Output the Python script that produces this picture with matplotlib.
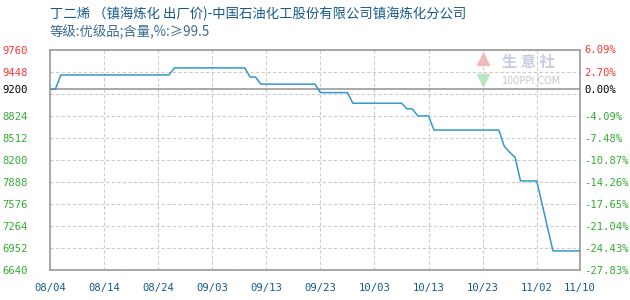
import matplotlib
matplotlib.use("Agg")
import matplotlib.pyplot as plt
import pandas as pd

plt.rcParams['font.family'] = ['Noto Sans CJK SC', 'DejaVu Sans']

# price series (date, price)
dates = ["08/04", "08/05", "08/06", "08/26", "08/27", "09/09", "09/10", "09/11",
         "09/12", "09/22", "09/23", "09/28", "09/29", "10/08", "10/09", "10/10",
         "10/11", "10/13", "10/14", "10/26", "10/27", "10/28", "10/29", "10/30",
         "11/02", "11/05", "11/10"]
prices = [9200, 9200, 9400, 9400, 9500, 9500, 9370, 9370,
          9270, 9270, 9150, 9150, 9000, 9000, 8920, 8920,
          8820, 8820, 8620, 8620, 8390, 8305, 8235, 7900,
          7900, 6910, 6910]

x_ticks = ["08/04", "08/14", "08/24", "09/03", "09/13", "09/23", "10/03",
           "10/13", "10/23", "11/02", "11/10"]
y_ticks = [9760, 9448, 9200, 8824, 8512, 8200, 7888, 7576, 7264, 6952, 6640]
grid_vals = [9760 - 312 * k for k in range(11)]
base_price = 9200

title = "丁二烯 （镇海炼化 出厂价)-中国石油化工股份有限公司镇海炼化分公司"
subtitle = "等级:优级品;含量,%:≥99.5"

start = pd.Timestamp("2023-08-04")
def day(s):
    return (pd.Timestamp("2023/" + s) - start).days

xs = [day(d) for d in dates]
xt = [day(d) for d in x_ticks]

red, green, blue_txt = "#ff3333", "#33aa33", "#165a8a"

fig = plt.figure(figsize=(6.3, 3.0), dpi=100)
ax = fig.add_axes([50 / 630, 30 / 300, 530 / 630, 220.5 / 300])

for g in grid_vals:
    ax.axhline(g, color="#cccccc", lw=0.8, ls=(0, (3, 2)), zorder=1)
for t in xt[1:-1]:
    ax.axvline(t, color="#cccccc", lw=0.8, ls=(0, (3, 2)), zorder=1)
ax.axhline(base_price, color="#999999", lw=1.2, zorder=2)

ax.plot(xs, prices, color="#3399cc", lw=1.1, zorder=3)

ax.set_xlim(xt[0], xt[-1])
ax.set_ylim(y_ticks[-1], y_ticks[0])
for s in ax.spines.values():
    s.set_color("#999999")
    s.set_linewidth(1.2)

mono = "DejaVu Sans Mono"
ax.set_xticks(xt)
ax.set_xticklabels(x_ticks, fontfamily=mono, fontsize=7.6, color=blue_txt)
ax.set_yticks(y_ticks)
ax.set_yticklabels([str(v) for v in y_ticks], fontfamily=mono, fontsize=7.6)
ax.tick_params(axis="x", length=0, pad=9)
ax.tick_params(axis="y", length=0, pad=16)

def tick_color(v):
    if v > base_price:
        return red
    if v < base_price:
        return green
    return "black"

for lbl, v in zip(ax.get_yticklabels(), y_ticks):
    lbl.set_color(tick_color(v))

ax2 = ax.twinx()
ax2.set_ylim(ax.get_ylim())
ax2.set_yticks(y_ticks)
ax2.set_yticklabels([f"{(v - base_price) / base_price * 100:.2f}%" for v in y_ticks],
                    fontfamily=mono, fontsize=7.6)
ax2.tick_params(axis="y", length=0, pad=3)
for lbl, v in zip(ax2.get_yticklabels(), y_ticks):
    lbl.set_color(tick_color(v))
for s in ax2.spines.values():
    s.set_visible(False)

# watermark
fig.text(502 / 630, 1 - 62 / 300, "生 意 社", fontsize=11, color="#c8cce0",
         ha="left", va="center", fontweight="bold")
fig.text(502 / 630, 1 - 81 / 300, "100PPI.COM", fontsize=7, color="#c8c8c8",
         ha="left", va="center", fontfamily="DejaVu Sans")
ax.plot([0.817], [0.955], marker="^", ms=9, color="#f4b8b8", transform=ax.transAxes,
        zorder=0, clip_on=False)
ax.plot([0.817], [0.86], marker="v", ms=9, color="#b8e8c0", transform=ax.transAxes,
        zorder=0, clip_on=False)

fig.text(50 / 630, 1 - 14 / 300, title, fontsize=9.6, color=blue_txt, va="center")
fig.text(50 / 630, 1 - 32 / 300, subtitle, fontsize=9.6, color="#3a6a90", va="center")

fig.savefig("out.png", dpi=100)
